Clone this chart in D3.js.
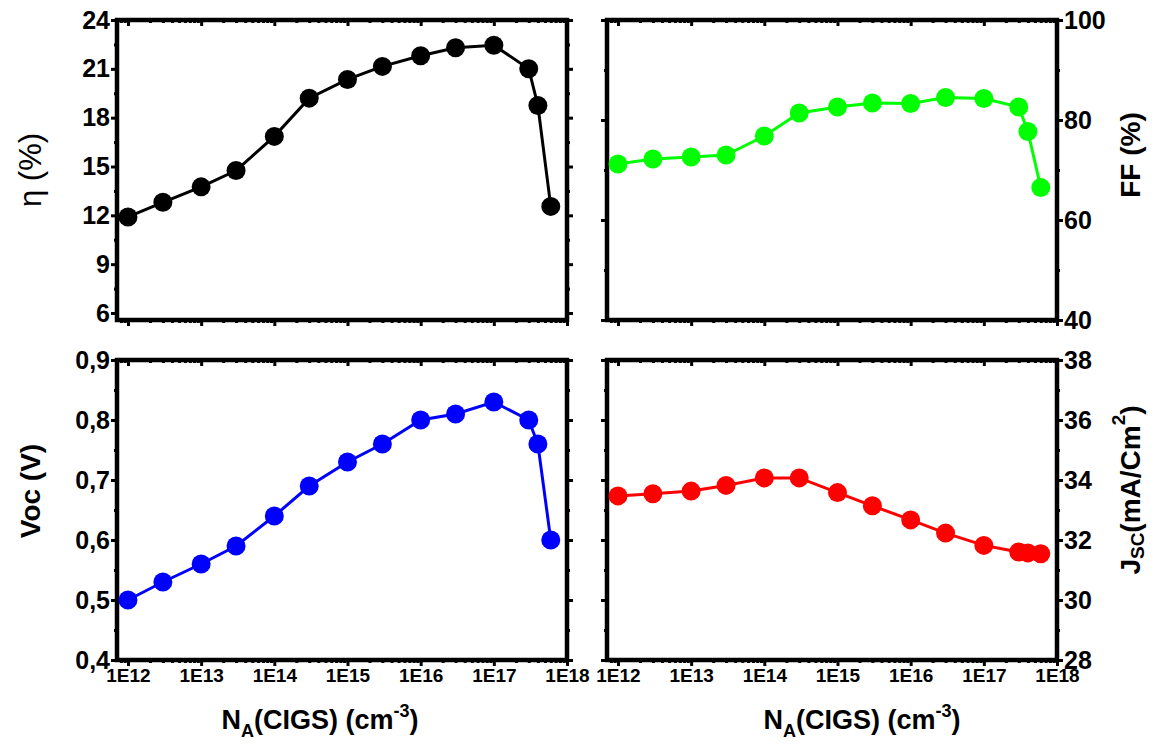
<!DOCTYPE html>
<html>
<head>
<meta charset="utf-8">
<script src="https://cdn.jsdelivr.net/npm/d3@7"></script>
<style>
  body { margin: 0; background: #fff; }
  svg { font-family: "Liberation Sans", Arial, sans-serif; font-weight: bold; }
  .frame { fill: none; stroke: #000; stroke-width: 4.5; }
  .axis path { display: none; }
  .axis line { stroke: #000; stroke-width: 3; }
  .axis text { fill: #000; font-family: "Liberation Sans", Arial, sans-serif; font-weight: bold; }
</style>
</head>
<body>
<svg width="1155" height="744"></svg>
<script>
var svg = d3.select("svg");

// doping concentration N_A (cm^-3)
var dopingNA = [1e12, 3e12, 1e13, 3e13, 1e14, 3e14, 1e15, 3e15, 1e16, 3e16, 1e17, 3e17, 4e17, 6e17];
var etaValues = [11.9, 12.8, 13.75, 14.75, 16.85, 19.2, 20.35, 21.15, 21.8, 22.3, 22.45, 21.0, 18.75, 12.55];
var ffValues = [71.2, 72.2, 72.6, 73.0, 76.8, 81.4, 82.6, 83.4, 83.3, 84.5, 84.3, 82.6, 77.7, 66.5];
var vocValues = [0.50, 0.53, 0.56, 0.59, 0.64, 0.69, 0.73, 0.76, 0.80, 0.81, 0.83, 0.80, 0.76, 0.60];
var jscValues = [33.47, 33.54, 33.63, 33.82, 34.07, 34.07, 33.58, 33.14, 32.67, 32.23, 31.82, 31.6, 31.57, 31.54];

var xTickValues = [1e12, 1e13, 1e14, 1e15, 1e16, 1e17, 1e18];
var xTickLabels = ["1E12", "1E13", "1E14", "1E15", "1E16", "1E17", "1E18"];
var etaTicks = [6, 9, 12, 15, 18, 21, 24];
var ffTicks = [40, 60, 80, 100];
var vocTicks = [0.4, 0.5, 0.6, 0.7, 0.8, 0.9];
var jscTicks = [28, 30, 32, 34, 36, 38];

var pw = 450, ph = 300;

var panels = [
  { x: 117, y: 20, values: etaValues, color: "#000000", domain: [5.57, 24], ticks: etaTicks,
    side: "left", fmt: d3.format("d"), xLabels: false },
  { x: 607, y: 20, values: ffValues, color: "#00ff00", domain: [40, 100], ticks: ffTicks,
    side: "right", fmt: d3.format("d"), xLabels: false },
  { x: 117, y: 360, values: vocValues, color: "#0000ff", domain: [0.4, 0.9], ticks: vocTicks,
    side: "left", fmt: function(d) { return d3.format(".1f")(d).replace(".", ","); }, xLabels: true },
  { x: 607, y: 360, values: jscValues, color: "#ff0000", domain: [28, 38], ticks: jscTicks,
    side: "right", fmt: d3.format("d"), xLabels: true }
];

var x = d3.scaleLog().domain([Math.pow(10, 11.85), 1e18]).range([0, pw]);

var xMinor = [];
for (var e = 11; e < 18; e++) {
  for (var m = 2; m < 10; m++) {
    var v = m * Math.pow(10, e);
    if (v >= x.domain()[0] && v <= 1e18) xMinor.push(v);
  }
}

panels.forEach(function(p) {
  var g = svg.append("g").attr("transform", "translate(" + p.x + "," + p.y + ")");
  var y = d3.scaleLinear().domain(p.domain).range([ph, 0]);

  // one minor tick halfway between majors
  var minorHalf = (p.ticks[1] - p.ticks[0]) / 2;
  var yMinor = [];
  p.ticks.forEach(function(k) {
    if (k + minorHalf <= p.domain[1] + 1e-9) yMinor.push(k + minorHalf);
  });

  // bottom axis
  var bottom = g.append("g").attr("class", "axis").attr("transform", "translate(0," + ph + ")");
  bottom.append("g").call(d3.axisBottom(x).tickValues(xMinor).tickSize(3).tickFormat(""));
  bottom.append("g").call(d3.axisBottom(x).tickValues(xTickValues).tickSize(6).tickPadding(3)
    .tickFormat(function(d, i) { return p.xLabels ? xTickLabels[i] : ""; }))
    .selectAll("text").style("font-size", "19px");

  // top axis (ticks pointing inward)
  var top = g.append("g").attr("class", "axis");
  top.append("g").call(d3.axisTop(x).tickValues(xMinor).tickSize(-3).tickFormat(""));
  top.append("g").call(d3.axisTop(x).tickValues(xTickValues).tickSize(-6).tickFormat(""));

  // left and right axes
  var left = g.append("g").attr("class", "axis");
  var right = g.append("g").attr("class", "axis").attr("transform", "translate(" + pw + ",0)");
  left.append("g").call(d3.axisLeft(y).tickValues(yMinor).tickSize(3).tickFormat(""));
  right.append("g").call(d3.axisRight(y).tickValues(yMinor).tickSize(3).tickFormat(""));
  left.append("g").call(d3.axisLeft(y).tickValues(p.ticks).tickSize(6).tickPadding(1)
    .tickFormat(p.side === "left" ? p.fmt : ""))
    .selectAll("text").style("font-size", "25px");
  right.append("g").call(d3.axisRight(y).tickValues(p.ticks).tickSize(6).tickPadding(1)
    .tickFormat(p.side === "right" ? p.fmt : ""))
    .selectAll("text").style("font-size", "25px");

  g.append("rect").attr("class", "frame").attr("width", pw).attr("height", ph);

  var pts = dopingNA.map(function(d, i) { return [d, p.values[i]]; });
  var line = d3.line().x(function(d) { return x(d[0]); }).y(function(d) { return y(d[1]); });
  g.append("path").datum(pts).attr("d", line)
    .attr("fill", "none").attr("stroke", p.color).attr("stroke-width", 3);
  g.selectAll("circle").data(pts).enter().append("circle")
    .attr("cx", function(d) { return x(d[0]); })
    .attr("cy", function(d) { return y(d[1]); })
    .attr("r", 9.5)
    .attr("fill", p.color);
});

// axis titles
function yTitle(cx, cy, angle, size) {
  return svg.append("text")
    .attr("transform", "translate(" + cx + "," + cy + ") rotate(" + angle + ")")
    .attr("text-anchor", "middle")
    .attr("dominant-baseline", "central")
    .style("font-size", size + "px");
}

yTitle(30, 170, -90, 31).style("font-weight", "normal").text("η (%)");
yTitle(30, 491, -90, 28).text("Voc (V)");
yTitle(1130, 155, -90, 28).text("FF (%)");

var jt = yTitle(1130, 490, -90, 28);
jt.append("tspan").text("J");
jt.append("tspan").attr("dy", 7).style("font-size", "19px").text("SC");
jt.append("tspan").attr("dy", -7).text("(mA/Cm");
jt.append("tspan").attr("dy", -12).style("font-size", "19px").text("2");
jt.append("tspan").attr("dy", 12).text(")");

[320, 862].forEach(function(cx) {
  var t = svg.append("text").attr("x", cx).attr("y", 729)
    .attr("text-anchor", "middle").style("font-size", "27px");
  t.append("tspan").text("N");
  t.append("tspan").attr("dy", 8).style("font-size", "18px").text("A");
  t.append("tspan").attr("dy", -8).text("(CIGS) (cm");
  t.append("tspan").attr("dy", -12).style("font-size", "18px").text("-3");
  t.append("tspan").attr("dy", 12).text(")");
});
</script>
</body>
</html>
